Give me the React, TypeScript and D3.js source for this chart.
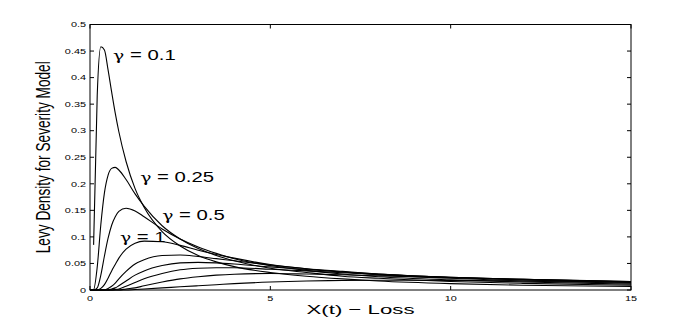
import * as d3 from "d3";

// x grid shared by every curve
const lossGrid = [0, 0.1, 0.2, 0.3, 0.4, 0.5, 0.6, 0.7, 0.8, 1, 1.25, 1.5, 2, 2.5, 3, 3.5, 4, 5, 6, 7, 8, 10, 12, 15];

// density values, one array per curve
const g010 = [null, 0.085, 0.366, 0.458, 0.452, 0.415, 0.373, 0.333, 0.298, 0.242, 0.191, 0.156, 0.110, 0.083, 0.065, 0.053, 0.044, 0.033, 0.026, 0.021, 0.017, 0.012, 0.009, 0.0066];
const g025 = [0, 0.001, 0.043, 0.123, 0.183, 0.216, 0.229, 0.231, 0.226, 0.208, 0.181, 0.158, 0.121, 0.096, 0.078, 0.065, 0.055, 0.041, 0.033, 0.026, 0.022, 0.016, 0.0125, 0.009];
const g050 = [0, 0, 0.004, 0.028, 0.064, 0.097, 0.122, 0.138, 0.148, 0.154, 0.149, 0.138, 0.115, 0.096, 0.081, 0.069, 0.059, 0.046, 0.037, 0.030, 0.025, 0.019, 0.015, 0.011];
const g100 = [0, 0, 0, 0.003, 0.010, 0.022, 0.036, 0.048, 0.060, 0.077, 0.088, 0.092, 0.091, 0.084, 0.075, 0.067, 0.060, 0.048, 0.040, 0.034, 0.029, 0.022, 0.017, 0.013];
const curve5 = [0, 0, 0, 0, 0, 0.003, 0.007, 0.013, 0.021, 0.035, 0.049, 0.057, 0.065, 0.066, 0.063, 0.059, 0.055, 0.047, 0.040, 0.035, 0.030, 0.0235, 0.019, 0.0144];
const curve6 = [0, 0, 0, 0, 0, 0, 0.002, 0.004, 0.008, 0.017, 0.028, 0.036, 0.046, 0.051, 0.052, 0.051, 0.049, 0.0435, 0.0385, 0.034, 0.030, 0.024, 0.020, 0.0153];
const curve7 = [0, 0, 0, 0, 0, 0, 0, 0.001, 0.002, 0.007, 0.014, 0.021, 0.031, 0.038, 0.041, 0.042, 0.042, 0.039, 0.036, 0.0326, 0.029, 0.024, 0.020, 0.0158];
const curve8 = [0, 0, 0, 0, 0, 0, 0, 0, 0, 0.002, 0.004, 0.008, 0.015, 0.021, 0.025, 0.028, 0.0298, 0.031, 0.030, 0.0286, 0.0267, 0.023, 0.020, 0.016];
const curve9 = [0, 0, 0, 0, 0, 0, 0, 0, 0, 0, 0.001, 0.002, 0.004, 0.006, 0.008, 0.010, 0.012, 0.015, 0.017, 0.018, 0.0185, 0.018, 0.017, 0.015];

const allCurves = [g010, g025, g050, g100, curve5, curve6, curve7, curve8, curve9];

const xTicks = [0, 5, 10, 15];
const xTickLabels = ["0", "5", "10", "15"];
const yTicks = [0, 0.05, 0.1, 0.15, 0.2, 0.25, 0.3, 0.35, 0.4, 0.45, 0.5];
const yTickLabels = ["0", "0.05", "0.1", "0.15", "0.2", "0.25", "0.3", "0.35", "0.4", "0.45", "0.5"];

// curve annotations, anchored in data units
const gammaValues = ["0.1", "0.25", "0.5", "1"];
const gammaX = [0.64, 1.39, 2.0, 0.83];
const gammaY = [0.434, 0.204, 0.132, 0.091];

const W = 698, H = 327;
const left = 90, right = 631, top = 24.5, bottom = 290;
const SX = 1.45; // the original figure is stretched horizontally
const font = "'Liberation Sans', Arial, Helvetica, sans-serif";

export default function App() {
  const x = d3.scaleLinear().domain([0, 15]).range([left, right]);
  const y = d3.scaleLinear().domain([0, 0.5]).range([bottom, top]);

  const line = d3.line<[number, number | null]>()
    .defined(d => d[1] != null)
    .x(d => x(d[0]))
    .y(d => y(d[1] as number))
    .curve(d3.curveMonotoneX);

  const tick = 4;

  return (
    <svg width={W} height={H} style={{ position: "absolute", left: 0, top: 0, background: "#fff" }} fontFamily={font}>
      <rect x={0} y={0} width={W} height={H} fill="#fff" />

      {allCurves.map((vals, i) => (
        <path key={i} d={line(lossGrid.map((g, j) => [g, vals[j]] as [number, number | null])) || ""}
          fill="none" stroke="#000" strokeWidth={1.1} />
      ))}

      <rect x={left} y={top} width={right - left} height={bottom - top} fill="none" stroke="#000" strokeWidth={1} />

      {xTicks.map((t, i) => (
        <g key={"x" + i}>
          <line x1={x(t)} x2={x(t)} y1={bottom} y2={bottom - tick} stroke="#000" />
          <line x1={x(t)} x2={x(t)} y1={top} y2={top + tick} stroke="#000" />
          <text transform={`translate(${x(t)},${bottom + 10.5}) scale(${SX},1)`} textAnchor="middle" fontSize={7.5}>{xTickLabels[i]}</text>
        </g>
      ))}

      {yTicks.map((t, i) => (
        <g key={"y" + i}>
          <line x1={left} x2={left + tick} y1={y(t)} y2={y(t)} stroke="#000" />
          <line x1={right} x2={right - tick} y1={y(t)} y2={y(t)} stroke="#000" />
          <text transform={`translate(${left - 4},${y(t) + 2.7}) scale(${SX},1)`} textAnchor="end" fontSize={7.5}>{yTickLabels[i]}</text>
        </g>
      ))}

      {gammaValues.map((s, i) => (
        <text key={"g" + i} transform={`translate(${x(gammaX[i])},${y(gammaY[i])}) scale(${SX},1)`} fontSize={14}>
          <tspan fontFamily="'DejaVu Serif', serif" fontSize={13}>γ</tspan> = {s}
        </text>
      ))}

      <text x={(left + right) / 2} y={314} textAnchor="middle" fontSize={13.5}
        textLength={108} lengthAdjust="spacingAndGlyphs">X(t) − Loss</text>

      <text transform={`translate(50,${(top + bottom) / 2}) rotate(-90) scale(1,${SX})`} textAnchor="middle" fontSize={13.5}
        textLength={192} lengthAdjust="spacingAndGlyphs">Levy Density for Severity Model</text>
    </svg>
  );
}
